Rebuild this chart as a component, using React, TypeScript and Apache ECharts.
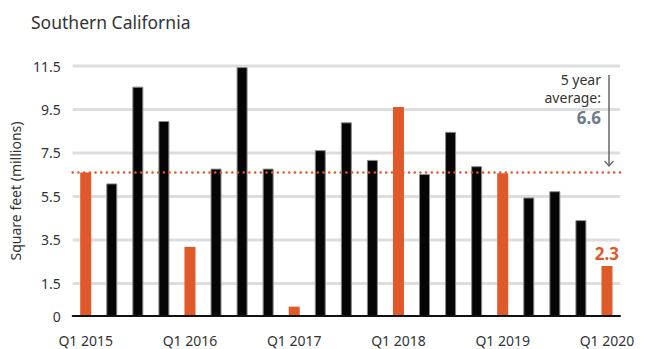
import React, { useEffect, useRef } from "react";
import * as echarts from "echarts";

const categories = [
  "Q1 2015", "Q2 2015", "Q3 2015", "Q4 2015",
  "Q1 2016", "Q2 2016", "Q3 2016", "Q4 2016",
  "Q1 2017", "Q2 2017", "Q3 2017", "Q4 2017",
  "Q1 2018", "Q2 2018", "Q3 2018", "Q4 2018",
  "Q1 2019", "Q2 2019", "Q3 2019", "Q4 2019",
  "Q1 2020",
];
const values = [
  6.6, 6.1, 10.55, 8.97,
  3.18, 6.78, 11.45, 6.78,
  0.43, 7.63, 8.91, 7.18,
  9.61, 6.53, 8.47, 6.89,
  6.57, 5.45, 5.74, 4.41,
  2.3,
];
const yTicks = [0, 1.5, 3.5, 5.5, 7.5, 9.5, 11.5];
const average = 6.6;
const lastLabel = "2.3";

const ORANGE = "#E0592A";
const BLACK = "#050505";
const GRID = "#dcdde0";
const FONT = "'Noto Sans', sans-serif";

export default function App() {
  const ref = useRef<HTMLDivElement>(null);
  useEffect(() => {
    if (!ref.current) return;
    const chart = echarts.init(ref.current, null, { renderer: "svg" });
    const barData = values.map((v, i) => {
      const isQ1 = categories[i].startsWith("Q1");
      const item: any = {
        value: v,
        itemStyle: isQ1
          ? { color: ORANGE, borderWidth: 0 }
          : { color: BLACK, borderColor: "#8a8a8a", borderWidth: 1 },
      };
      if (i === values.length - 1) {
        item.label = {
          show: true,
          position: "top",
          distance: 4,
          formatter: lastLabel,
          color: ORANGE,
          fontWeight: "bold",
          fontSize: 17,
          fontFamily: FONT,
        };
      }
      return item;
    });
    chart.setOption({
      animation: false,
      grid: { left: 68, right: 35, top: 66, bottom: 33 },
      title: {
        text: "Southern California",
        left: 26,
        top: 8,
        textStyle: { fontFamily: FONT, fontSize: 17.5, fontWeight: "normal", color: "#333" },
      },
      xAxis: {
        type: "category",
        data: categories,
        boundaryGap: true,
        axisTick: { show: false },
        axisLine: { lineStyle: { color: "#111", width: 2 } },
        axisLabel: {
          interval: (i: number) => i % 4 === 0,
          margin: 17,
          fontFamily: FONT,
          fontSize: 14,
          color: "#333",
        },
        z: 5,
      },
      yAxis: [
        {
          type: "value",
          min: 0,
          max: 11.5,
          name: "Square feet (millions)",
          nameLocation: "middle",
          nameGap: 37,
          nameTextStyle: { fontFamily: FONT, fontSize: 14, color: "#333" },
          splitLine: { show: false },
          axisTick: { show: false, customValues: yTicks },
          axisLabel: {
            margin: 12,
            fontFamily: FONT,
            fontSize: 14,
            color: "#333",
            customValues: yTicks,
          },
        },
      ],
      series: [
        {
          type: "custom",
          silent: true,
          z: 1,
          data: yTicks.filter((t) => t > 0).map((t) => [0, t]),
          encode: { y: 1 },
          renderItem: (params: any, api: any) => {
            const y = api.coord([0, api.value(1)])[1];
            const cs = params.coordSys;
            return {
              type: "line",
              shape: { x1: cs.x, y1: y, x2: cs.x + cs.width, y2: y },
              style: { stroke: GRID, lineWidth: 3 },
            };
          },
        },
        {
          type: "bar",
          data: barData,
          barWidth: 11,
          z: 3,
          markLine: {
            silent: true,
            symbol: "none",
            label: { show: false },
            lineStyle: { color: ORANGE, width: 2.5, type: [0.1, 5.6], cap: "round" },
            data: [{ yAxis: average }],
          },
        },
      ],
      graphic: [
        {
          type: "text",
          x: 601,
          y: 79.5,
          z: 10,
          style: {
            text: "5 year",
            align: "right",
            verticalAlign: "middle",
            fontFamily: FONT,
            fontSize: 14,
            fill: "#333",
          },
        },
        {
          type: "text",
          x: 601,
          y: 97.5,
          z: 10,
          style: {
            text: "average:",
            align: "right",
            verticalAlign: "middle",
            fontFamily: FONT,
            fontSize: 14,
            fill: "#333",
          },
        },
        {
          type: "text",
          x: 601,
          y: 117,
          z: 10,
          style: {
            text: String(average),
            align: "right",
            verticalAlign: "middle",
            fontFamily: FONT,
            fontSize: 17,
            fontWeight: "bold",
            fill: "#6b7b8b",
          },
        },
        {
          type: "line",
          z: 10,
          shape: { x1: 609, y1: 75, x2: 609, y2: 166 },
          style: { stroke: "#666", lineWidth: 1.5 },
        },
        {
          type: "polyline",
          z: 10,
          shape: { points: [[604.5, 161], [609, 166], [613.5, 161]] },
          style: { stroke: "#666", lineWidth: 1.2, fill: null },
        },
      ],
    });
    return () => chart.dispose();
  }, []);
  return <div ref={ref} style={{ width: 655, height: 349, position: "absolute", left: 0, top: 0 }} />;
}
